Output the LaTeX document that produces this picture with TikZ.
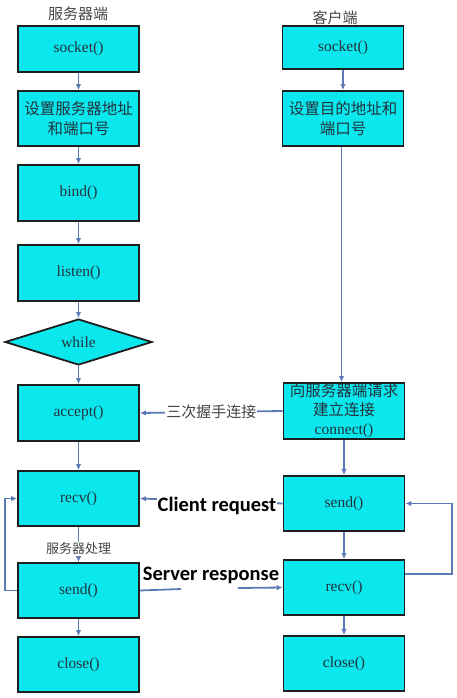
\documentclass[tikz,border=0pt]{standalone}
\usepackage{fontspec}
\setmainfont{Liberation Serif}
\newfontfamily\cjk{Noto Sans CJK SC}
\newfontfamily\calfont{Carlito}
\usetikzlibrary{shapes.geometric,arrows.meta}
\definecolor{boxfill}{RGB}{10,232,238}
\definecolor{boxline}{RGB}{30,30,30}
\definecolor{arrcol}{RGB}{92,122,184}
\definecolor{txtcol}{RGB}{35,50,60}
\definecolor{lblcol}{RGB}{70,70,70}
\tikzset{
  proc/.style={draw=boxline, line width=1.8pt, fill=boxfill, minimum width=121pt, inner sep=1pt,
    align=center, text=txtcol, font=\fontsize{15.5}{19}\selectfont},
  cond/.style={draw=boxline, line width=1.8pt, fill=boxfill, shape=diamond, minimum width=147pt,
    minimum height=46pt, inner sep=0pt, text=txtcol, font=\fontsize{15.5}{19}\selectfont},
  arr/.style={draw=arrcol, line width=1.8pt, -{Latex[length=6pt,width=5.5pt]}},
  ln/.style={draw=arrcol, line width=1.8pt},
  head/.style={text=lblcol, font=\cjk\fontsize{15}{17}\selectfont},
  lbl/.style={fill=white, inner sep=1pt, text=lblcol, font=\cjk\fontsize{15}{17}\selectfont},
  big/.style={fill=white, inner sep=1pt, text=black, font=\calfont\bfseries\fontsize{20.5}{24}\selectfont},
}
\begin{document}
\begin{tikzpicture}[x=1pt,y=-1pt]
\useasboundingbox (0,0) rectangle (457,698);
% headers
\node[head] (h1) at (78,14) {服务器端};
\node[head] (h2) at (335,18) {客户端};
% server column
\node[proc, minimum height=46pt] (s1) at (78.5,49) {socket()};
\node[proc, minimum height=55pt, font=\cjk\fontsize{15.5}{20}\selectfont] (s2) at (78.5,118.5) {设置服务器地址\\和端口号};
\node[proc, minimum height=56pt] (s3) at (78.5,193) {bind()};
\node[proc, minimum height=56pt] (s4) at (78.5,273) {listen()};
\node[cond] (s5) at (78.5,342) {while};
\node[proc, minimum height=56pt] (s6) at (78.5,413) {accept()};
\node[proc, minimum height=55pt] (s7) at (78.5,498.5) {recv()};
\node[proc, minimum height=55pt] (s8) at (78.5,590.5) {send()};
\node[proc, minimum height=55pt] (s9) at (78.5,664.5) {close()};
% client column
\node[proc, minimum height=43pt] (c1) at (343,47.5) {socket()};
\node[proc, minimum height=55pt, font=\cjk\fontsize{15.5}{20}\selectfont] (c2) at (343,118.5) {设置目的地址和\\端口号};
\node[proc, minimum height=56pt, inner sep=0pt] (c3) at (344,411) {{\cjk 向服务器端请求}\\{\cjk 建立连接}\\connect()};
\node[proc, minimum height=55pt] (c4) at (344,503.5) {send()};
\node[proc, minimum height=55pt] (c5) at (344,587.5) {recv()};
\node[proc, minimum height=55pt] (c6) at (344,663.5) {close()};
% server arrows
\draw[arr] (s1) -- (s2);
\draw[arr] (s2) -- (s3);
\draw[arr] (s3) -- (s4);
\draw[arr] (s4) -- (s5);
\draw[arr] (s5) -- (s6);
\draw[arr] (s6) -- (s7);
\draw[arr, line width=1pt] (s7) -- node[lbl, pos=0.62, font=\cjk\fontsize{13}{15}\selectfont] (p1) {服务器处理} (s8);
\draw[arr] (s8) -- (s9);
% client arrows
\draw[arr] (c1) -- (c2);
\draw[arr] (c2.south -| 341.5,0) -- (c3.north -| 341.5,0);
\draw[arr] (c3) -- (c4);
\draw[arr] (c4) -- (c5);
\draw[arr] (c5) -- (c6);
% handshake
\draw[arr] (c3.west) -- node[lbl] (t1) {三次握手连接} (s6.east);
% client request
\draw[arr] (c4.west) -- (s7.east);
\node[big] (t2) at (217,506) {Client request};
% server response
\coordinate (g1) at (181,589);
\coordinate (g2) at (238,588);
\draw[ln] (s8.east) -- (g1);
\draw[arr] (g2) -- (c5.west);
\node[inner sep=1pt, text=black, font=\calfont\bfseries\fontsize{20.5}{24}\selectfont] (t3) at (211,575) {Server response};
% loops
\coordinate (lL) at (5,0);
\coordinate (rL) at (452,0);
\draw[arr] (s8.west) -- (s8.west -| lL) |- (s7.west);
\draw[arr] ([yshift=-15pt]c5.north east) -- ([yshift=-15pt]c5.north east -| rL) |- (c4.east);
\end{tikzpicture}
\end{document}
